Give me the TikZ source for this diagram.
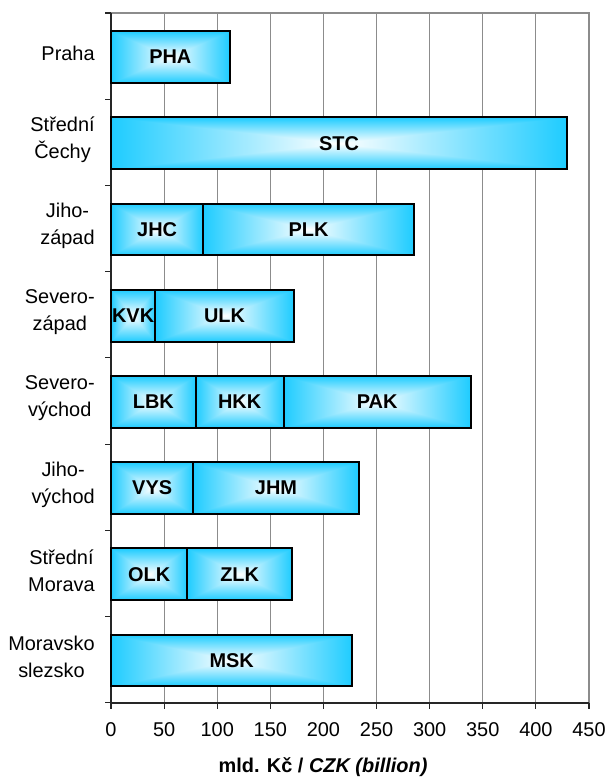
\documentclass[tikz,border=0pt]{standalone}
\usepackage{fontspec}
\setmainfont{Liberation Sans}
\definecolor{barcyan}{rgb}{0.12,0.8,1.0}
\definecolor{gridgray}{gray}{0.55}
% box-shaped glow: white in the middle, cyan towards every edge
\pgfdeclarefunctionalshading{barglow}{\pgfpoint{-50bp}{-50bp}}{\pgfpoint{50bp}{50bp}}{}{
  abs exch abs 2 copy lt {exch} if pop
  25 div dup 1 gt {pop 1} if
  dup 0.88 mul 1 exch sub exch 0.2 mul 1 exch sub 1
}
\tikzset{
  segbar/.style={shading=barglow, draw=black, line width=1bp},
  seglabel/.style={font=\fontsize{10}{12}\selectfont\bfseries, inner sep=0pt},
  regionlabel/.style={font=\fontsize{10}{13.5}\selectfont, align=center, anchor=east, inner sep=0pt},
  ticklabel/.style={font=\fontsize{10}{12}\selectfont, inner sep=0pt},
}

\begin{document}
\begin{tikzpicture}[x=0.5311bp, y=43.1bp]
\useasboundingbox (-104.5,-0.8735) rectangle (470.7,8.152);

% grid and frame
\foreach \v in {50,100,...,400}
  \draw [gridgray, line width=0.5bp] (\v,0) -- (\v,8);
\draw [gridgray, line width=0.9bp] (0,8) -- (450,8) -- (450,0);
\draw [black!85, line width=0.8bp] (0,8) -- (0,0) -- (450,0);
\foreach \k in {0,...,8}
  \draw [black!85, line width=0.6bp] (-5.6,\k) -- (0,\k);
\foreach \v in {0,50,...,450} {
  \draw [black!85, line width=0.6bp] (\v,0) -- (\v,-0.07);
  \node [ticklabel] (tick\v) at (\v,-0.31) {\v};
}

% Praha
\shade [segbar] (0,7.19) rectangle (111.7,7.79);
\node [seglabel] (pha) at (55.85,7.49) {PHA};
% Stredni Cechy
\shade [segbar] (0,6.19) rectangle (429.3,6.79);
\node [seglabel] (stc) at (214.65,6.49) {STC};
% Jihozapad
\shade [segbar] (0,5.19) rectangle (86.9,5.79);
\node [seglabel] (jhc) at (43.45,5.49) {JHC};
\shade [segbar] (86.9,5.19) rectangle (285,5.79);
\node [seglabel] (plk) at (185.95,5.49) {PLK};
% Severozapad
\shade [segbar] (0,4.19) rectangle (41.7,4.79);
\node [seglabel] (kvk) at (20.85,4.49) {KVK};
\shade [segbar] (41.7,4.19) rectangle (172,4.79);
\node [seglabel] (ulk) at (106.85,4.49) {ULK};
% Severovychod
\shade [segbar] (0,3.19) rectangle (79.7,3.79);
\node [seglabel] (lbk) at (39.85,3.49) {LBK};
\shade [segbar] (79.7,3.19) rectangle (162.6,3.79);
\node [seglabel] (hkk) at (121.15,3.49) {HKK};
\shade [segbar] (162.6,3.19) rectangle (338.6,3.79);
\node [seglabel] (pak) at (250.6,3.49) {PAK};
% Jihovychod
\shade [segbar] (0,2.19) rectangle (77.5,2.79);
\node [seglabel] (vys) at (38.75,2.49) {VYS};
\shade [segbar] (77.5,2.19) rectangle (233.2,2.79);
\node [seglabel] (jhm) at (155.35,2.49) {JHM};
% Stredni Morava
\shade [segbar] (0,1.19) rectangle (71.8,1.79);
\node [seglabel] (olk) at (35.9,1.49) {OLK};
\shade [segbar] (71.8,1.19) rectangle (170.4,1.79);
\node [seglabel] (zlk) at (121.1,1.49) {ZLK};
% Moravskoslezsko
\shade [segbar] (0,0.19) rectangle (227.2,0.79);
\node [seglabel] (msk) at (113.6,0.49) {MSK};

% region names
\node [regionlabel] (praha) at (-15,7.53) {Praha};
\node [regionlabel] (stredcechy) at (-15,6.53) {Střední\\Čechy};
\node [regionlabel] (jihozapad) at (-15,5.53) {Jiho-\\západ};
\node [regionlabel] (severozapad) at (-15,4.53) {Severo-\\západ};
\node [regionlabel] (severovychod) at (-15,3.53) {Severo-\\východ};
\node [regionlabel] (jihovychod) at (-15,2.53) {Jiho-\\východ};
\node [regionlabel] (stredmorava) at (-15,1.53) {Střední\\Morava};
\node [regionlabel] (moravslez) at (-15,0.53) {Moravsko\\slezsko};

% axis title
\node [font=\fontsize{10}{12}\selectfont\bfseries, inner sep=0pt] (xtitle) at (199.6,-0.746)
  {mld. Kč / \itshape CZK (billion)};
\end{tikzpicture}
\end{document}
